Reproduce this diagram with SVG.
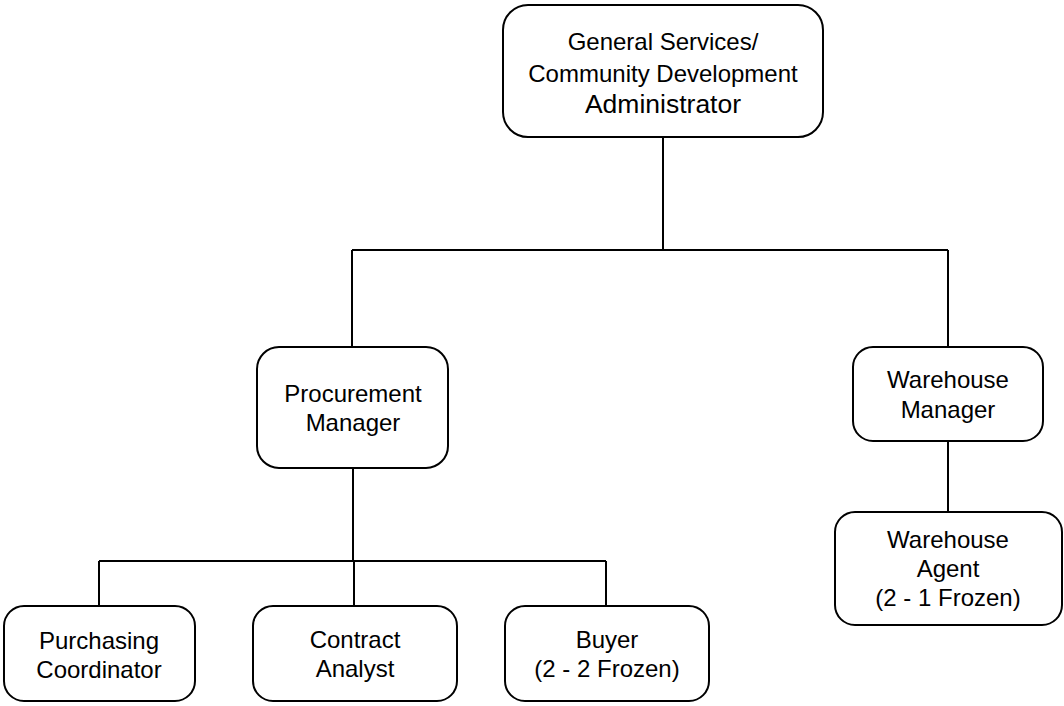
<svg xmlns="http://www.w3.org/2000/svg" width="1064" height="706" viewBox="0 0 1064 706">
<style>
.box{fill:#fff;stroke:#000;stroke-width:2}
.t{font-family:"Liberation Sans",Arial,sans-serif;font-size:24px;fill:#000;text-anchor:middle}
.big{font-size:26.5px}
.c{fill:none;stroke:#000;stroke-width:2}
</style>
<rect width="1064" height="706" fill="#fff"/>
<g id="connectors">
<path class="c" d="M663 137V250M352 250H948M352 250V347M948 250V347"/>
<path class="c" d="M353 468V561M99 561H606M99 561V606M354 561V606M606 561V606"/>
<path class="c" d="M948 441V512"/>
</g>
<g id="admin">
<rect class="box" x="503" y="5" width="320" height="132" rx="25"/>
<text class="t" x="663" y="50">General Services/</text>
<text class="t" x="663" y="82">Community Development</text>
<text class="t big" x="663" y="113">Administrator</text>
</g>
<g id="procurement">
<rect class="box" x="257" y="347" width="191" height="121" rx="22"/>
<text class="t" x="353" y="402">Procurement</text>
<text class="t" x="353" y="431">Manager</text>
</g>
<g id="warehouse-manager">
<rect class="box" x="853" y="347" width="190" height="94" rx="20"/>
<text class="t" x="948" y="388">Warehouse</text>
<text class="t" x="948" y="418">Manager</text>
</g>
<g id="warehouse-agent">
<rect class="box" x="835" y="512" width="227" height="113" rx="20"/>
<text class="t" x="948" y="548">Warehouse</text>
<text class="t" x="948" y="577">Agent</text>
<text class="t" x="948" y="606">(2 - 1 Frozen)</text>
</g>
<g id="purchasing">
<rect class="box" x="4" y="606" width="191" height="95" rx="20"/>
<text class="t" x="99" y="649">Purchasing</text>
<text class="t" x="99" y="678">Coordinator</text>
</g>
<g id="contract">
<rect class="box" x="253" y="606" width="204" height="95" rx="20"/>
<text class="t" x="355" y="648">Contract</text>
<text class="t" x="355" y="677">Analyst</text>
</g>
<g id="buyer">
<rect class="box" x="505" y="606" width="204" height="95" rx="20"/>
<text class="t" x="607" y="648">Buyer</text>
<text class="t" x="607" y="677">(2 - 2 Frozen)</text>
</g>
</svg>
